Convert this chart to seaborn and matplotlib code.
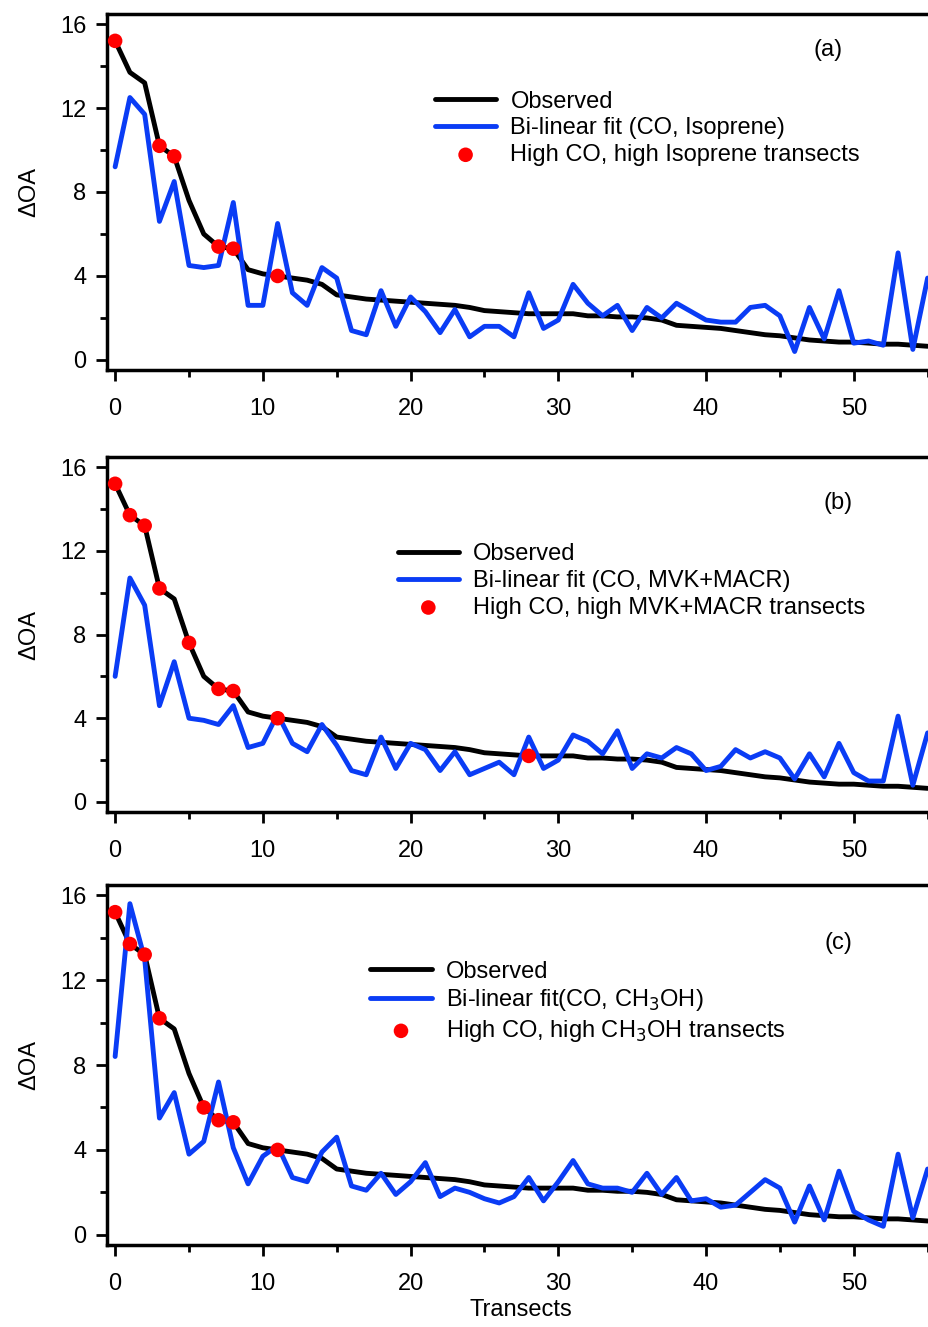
import numpy as np
import seaborn as sns
import matplotlib.pyplot as plt
from matplotlib.ticker import MultipleLocator

transects = list(range(56))

observed = [15.2, 13.7, 13.2, 10.2, 9.7, 7.6, 6.0, 5.4, 5.3, 4.3, 4.1, 4.0, 3.9, 3.8, 3.6, 3.1,
            3.0, 2.9, 2.85, 2.8, 2.75, 2.7, 2.65, 2.6, 2.5, 2.35, 2.3, 2.25, 2.2, 2.2, 2.2, 2.2,
            2.1, 2.1, 2.05, 2.05, 2.0, 1.9, 1.65, 1.6, 1.55, 1.5, 1.4, 1.3, 1.2, 1.15, 1.05, 0.95,
            0.9, 0.85, 0.85, 0.8, 0.75, 0.75, 0.7, 0.65]

fit_isoprene = [9.2, 12.5, 11.7, 6.6, 8.5, 4.5, 4.4, 4.5, 7.5, 2.6, 2.6, 6.5, 3.2, 2.6, 4.4, 3.9,
                1.4, 1.2, 3.3, 1.6, 3.0, 2.3, 1.3, 2.4, 1.1, 1.6, 1.6, 1.1, 3.2, 1.5, 1.9, 3.6,
                2.7, 2.1, 2.6, 1.4, 2.5, 2.0, 2.7, 2.3, 1.9, 1.8, 1.8, 2.5, 2.6, 2.1, 0.4, 2.5,
                1.0, 3.3, 0.8, 0.9, 0.7, 5.1, 0.5, 3.9]

fit_mvk = [6.0, 10.7, 9.4, 4.6, 6.7, 4.0, 3.9, 3.7, 4.6, 2.6, 2.8, 4.2, 2.8, 2.4, 3.7, 2.7,
           1.5, 1.3, 3.1, 1.6, 2.8, 2.5, 1.5, 2.4, 1.3, 1.6, 1.9, 1.3, 3.1, 1.6, 2.0, 3.2,
           2.9, 2.3, 3.4, 1.6, 2.3, 2.1, 2.6, 2.3, 1.5, 1.7, 2.5, 2.1, 2.4, 2.1, 1.1, 2.3,
           1.2, 2.8, 1.4, 1.0, 1.0, 4.1, 0.8, 3.3]

fit_methanol = [8.4, 15.6, 13.0, 5.5, 6.7, 3.8, 4.4, 7.2, 4.1, 2.4, 3.7, 4.2, 2.7, 2.5, 3.9, 4.6,
                2.3, 2.1, 2.9, 1.9, 2.5, 3.4, 1.8, 2.2, 2.0, 1.7, 1.5, 1.8, 2.7, 1.6, 2.5, 3.5,
                2.4, 2.2, 2.2, 2.0, 2.9, 1.9, 2.7, 1.6, 1.7, 1.3, 1.4, 2.0, 2.6, 2.2, 0.6, 2.3,
                0.7, 3.0, 1.1, 0.7, 0.4, 3.8, 0.8, 3.1]

high_isoprene = [0, 3, 4, 7, 8, 11]
high_mvk = [0, 1, 2, 3, 5, 7, 8, 11, 28]
high_methanol = [0, 1, 2, 3, 6, 7, 8, 11]

panels = [
    ("(a)", fit_isoprene, high_isoprene, "Bi-linear fit (CO, Isoprene)",
     "High CO, high Isoprene transects", (0.396, 0.785), (0.871, 0.90)),
    ("(b)", fit_mvk, high_mvk, "Bi-linear fit (CO, MVK+MACR)",
     "High CO, high MVK+MACR transects", (0.351, 0.757), (0.883, 0.87)),
    ("(c)", fit_methanol, high_methanol, "Bi-linear fit(CO, CH$_3$OH)",
     "High CO, high CH$_3$OH transects", (0.318, 0.79), (0.883, 0.84)),
]

sns.set_style("ticks")
plt.rcParams['font.family'] = ['Liberation Sans', 'DejaVu Sans']
plt.rcParams.update({"text.color": "black", "axes.labelcolor": "black",
                     "xtick.color": "black", "ytick.color": "black",
                     "axes.edgecolor": "black"})

W, H = 929, 1327
fig = plt.figure(figsize=(W / 100, H / 100), dpi=100)
# axes boxes in pixels: (top, bottom)
boxes = [(14, 370), (457, 812), (885, 1245)]
left, right = 107, 935

for (tag, fit, high, fit_label, high_label, leg_pos, tag_pos), (top, bot) in zip(panels, boxes):
    ax = fig.add_axes([left / W, 1 - bot / H, (right - left) / W, (bot - top) / H])
    sns.lineplot(x=transects, y=observed, ax=ax, color="black", lw=3.5, label="Observed")
    sns.lineplot(x=transects, y=fit, ax=ax, color="#0a3cf5", lw=3.5, label=fit_label)
    sns.scatterplot(x=high, y=[observed[i] for i in high], ax=ax, color="#ff0000",
                    s=110, edgecolor="none", zorder=5, label=high_label)
    ax.set_xlim(-0.55, 55.5)
    ax.set_ylim(-0.48, 16.48)
    ax.xaxis.set_major_locator(MultipleLocator(10))
    ax.xaxis.set_minor_locator(MultipleLocator(5))
    ax.yaxis.set_major_locator(MultipleLocator(4))
    ax.yaxis.set_minor_locator(MultipleLocator(2))
    ax.tick_params(which="major", length=8, width=2, labelsize=17, pad=7)
    ax.tick_params(axis="x", which="major", pad=12)
    ax.tick_params(which="minor", length=5, width=2)
    for s in ["left", "bottom", "top"]:
        ax.spines[s].set_linewidth(2.5)
    ax.spines["right"].set_visible(False)
    ax.set_ylabel("ΔOA", fontsize=17, labelpad=14)
    ax.set_xlabel("")
    ax.text(*tag_pos, tag, transform=ax.transAxes, fontsize=17, ha="center", va="center")
    ax.legend(loc="upper left", bbox_to_anchor=leg_pos, frameon=False, fontsize=17,
              handlelength=2.6, handletextpad=0.6, labelspacing=0.2, borderaxespad=0,
              borderpad=0)

ax.set_xlabel("Transects", fontsize=17, labelpad=3)
fig.savefig("out.png", dpi=100)
